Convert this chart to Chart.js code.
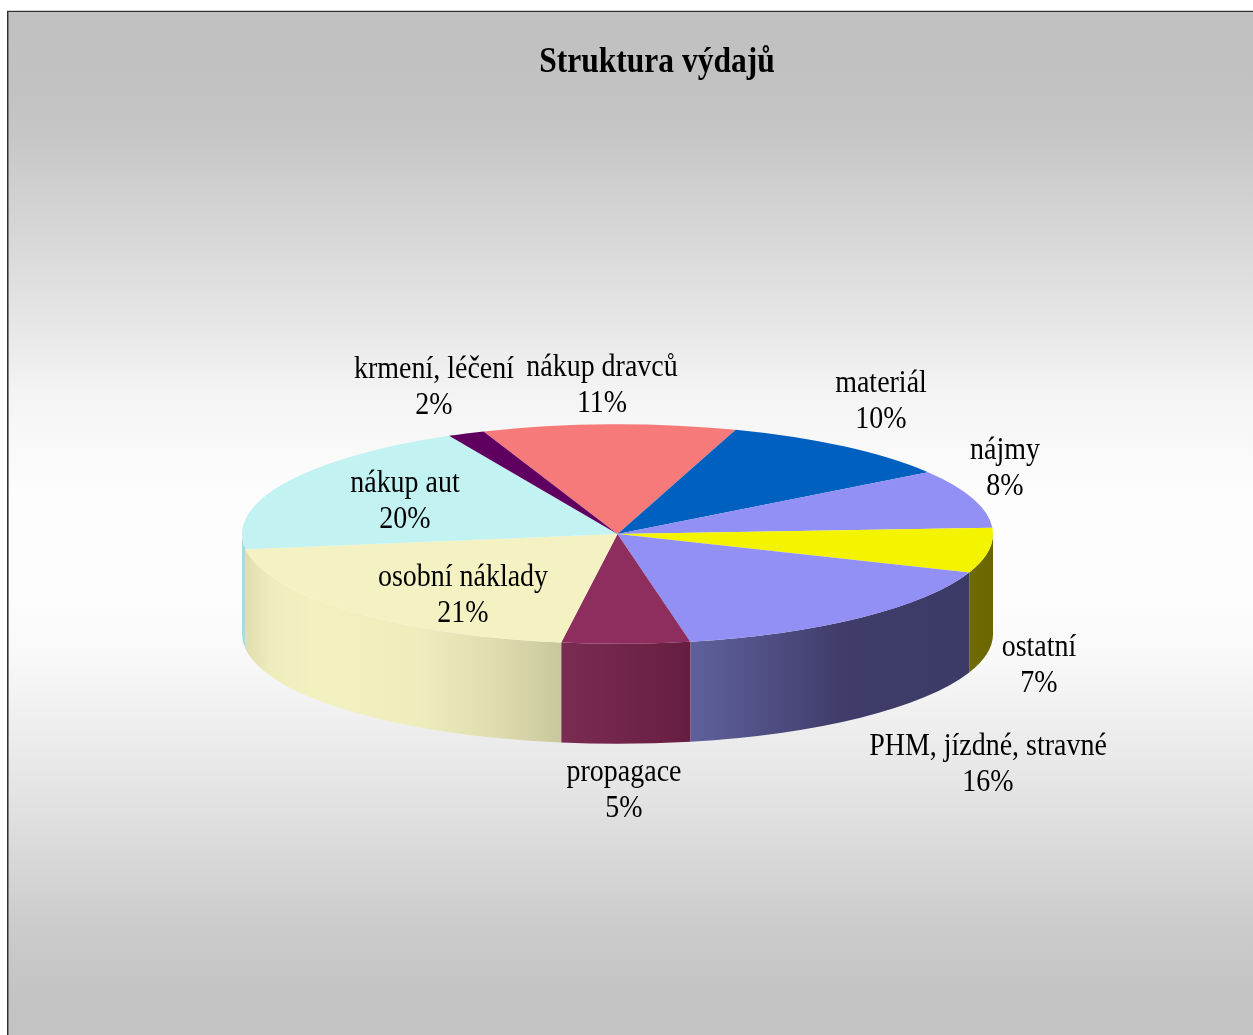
<!DOCTYPE html>
<html>
<head>
<meta charset="utf-8">
<title>Struktura výdajů</title>
<script src="https://cdn.jsdelivr.net/npm/chart.js@4"></script>
<style>
    html, body { margin: 0; padding: 0; background: #fff; overflow: hidden; }
    canvas { display: block; }
</style>
</head>
<body>
<canvas id="vydaje-chart" width="1253" height="1035"></canvas>
<script>
var chart_title = 'Struktura výdajů';
var categories = ['nákup dravců', 'materiál', 'nájmy', 'ostatní', 'PHM, jízdné, stravné', 'propagace', 'osobní náklady', 'nákup aut', 'krmení, léčení'];
var values = [10.9, 10.4, 8.6, 6.6, 16.2, 5.5, 20.4, 19.8, 1.6];
var percent_labels = ['11%', '10%', '8%', '7%', '16%', '5%', '21%', '20%', '2%'];

var top_colors = ['#f67a7a', '#0060c0', '#9290f4', '#f4f400', '#9290f4', '#8e2e5e', '#f4f2c2', '#c2f2f2', '#5f0060'];
// side wall shading, [x position on the wall 0..1, colour]
var wall_shades = [
    [[0, '#c06060'], [1, '#c06060']],
    [[0, '#004c98'], [1, '#004c98']],
    [[0, '#3c3a68'], [1, '#3c3a68']],
    [[0, '#716c00'], [1, '#6a6600']],
    [[0, '#5f5f9c'], [0.15, '#57578f'], [0.55, '#3f3c6a'], [1, '#3c3a66']],
    [[0, '#7a2b52'], [0.6, '#702348'], [1, '#661e40']],
    [[0, '#e0deb0'], [0.08, '#eeecbc'], [0.2, '#f3f1c0'], [0.55, '#efedbc'], [0.8, '#dedcae'], [1, '#c8c69c']],
    [[0, '#a8dcdc'], [1, '#a8dcdc']],
    [[0, '#4c004c'], [1, '#4c004c']]
];

// background bands, [y on the page, grey]
var background_stops = [[11, '#c0c0c0'], [90, '#c2c2c2'], [132, '#c6c6c6'], [264, '#dcdcdc'], [396, '#f4f4f4'], [495, '#fdfdfd'], [594, '#fdfdfd'], [660, '#f8f8f8'], [792, '#e4e4e4'], [924, '#cccccc'], [990, '#c4c4c4'], [1035, '#c3c3c3']];

// centre of each text block on the page
var label_centers = [[602, 386], [881, 402], [1005, 469], [1039, 666], [988, 765], [624, 791], [463, 596], [405, 502], [434, 388]];
var title_center = [657, 63];

var pie_squash = 0.2925;
var pie_depth = 100;
var label_font = '31.5px "Liberation Serif"';
var label_narrow = 0.888;
var title_font = 'bold 36px "Liberation Serif"';
var title_narrow = 0.875;
var label_line = 36;

function DrawNarrowText(ctx, text, x, y, narrow) {
    ctx.save();
    ctx.translate(x, y);
    ctx.scale(narrow, 1);
    ctx.fillText(text, 0, 0);
    ctx.restore();
}

function AddStops(grad, stops) {
    for (var s = 0; s < stops.length; s++) {
        grad.addColorStop(stops[s][0], stops[s][1]);
    }
}

var framePlugin = {
    id: 'frame',
    beforeDraw: function (chart) {
        var ctx = chart.ctx;
        ctx.save();
        ctx.fillStyle = '#ffffff';
        ctx.fillRect(0, 0, chart.width, chart.height);
        var grad = ctx.createLinearGradient(0, 0, 0, chart.height);
        for (var b = 0; b < background_stops.length; b++) {
            grad.addColorStop(background_stops[b][0] / chart.height, background_stops[b][1]);
        }
        ctx.fillStyle = grad;
        ctx.fillRect(8, 11, chart.width - 8, chart.height - 11);
        ctx.fillStyle = '#d0d0d0';
        ctx.fillRect(7, 10, chart.width - 7, 1);
        ctx.fillStyle = '#303030';
        ctx.fillRect(7, 11, chart.width - 7, 1);
        ctx.fillRect(7, 11, 1, chart.height - 11);
        ctx.fillStyle = '#808080';
        ctx.fillRect(8, 12, 1, chart.height - 12);
        ctx.restore();
    }
};

// draws the walls of the slices that face the viewer, then flattens the arcs
var tiltPlugin = {
    id: 'tilt',
    beforeDatasetDraw: function (chart, args) {
        var ctx = chart.ctx;
        var arcs = args.meta.data;
        var cx = arcs[0].x;
        var cy = arcs[0].y;
        var rx = arcs[0].outerRadius;
        var ry = rx * pie_squash;
        var turn = Math.PI * 2;

        ctx.save();
        for (var i = 0; i < arcs.length; i++) {
            var start = arcs[i].startAngle;
            var end = arcs[i].endAngle;
            while (start < 0) {
                start += turn;
                end += turn;
            }
            // keep only the part in the lower half of the ellipse
            var from = Math.max(start, 0);
            var to = Math.min(end, Math.PI);
            if (start > Math.PI && end > turn) {
                from = 0;
                to = end - turn;
            }
            if (to <= from) {
                continue;
            }

            var grad = ctx.createLinearGradient(cx + rx * Math.cos(to), 0, cx + rx * Math.cos(from), 0);
            AddStops(grad, wall_shades[i]);

            ctx.beginPath();
            ctx.ellipse(cx, cy, rx, ry, 0, from, to);
            ctx.ellipse(cx, cy + pie_depth, rx, ry, 0, to, from, true);
            ctx.closePath();
            ctx.fillStyle = grad;
            ctx.fill();
        }
        ctx.restore();

        ctx.save();
        ctx.translate(cx, cy);
        ctx.scale(1, pie_squash);
        ctx.translate(-cx, -cy);
    },
    afterDatasetDraw: function (chart) {
        chart.ctx.restore();
    }
};

var textPlugin = {
    id: 'pieText',
    afterDraw: function (chart) {
        var ctx = chart.ctx;
        ctx.save();
        ctx.fillStyle = '#000000';
        ctx.textAlign = 'center';
        ctx.textBaseline = 'middle';
        ctx.font = title_font;
        DrawNarrowText(ctx, chart_title, title_center[0], title_center[1], title_narrow);
        ctx.font = label_font;
        for (var i = 0; i < categories.length; i++) {
            DrawNarrowText(ctx, categories[i], label_centers[i][0], label_centers[i][1] - label_line / 2, label_narrow);
            DrawNarrowText(ctx, percent_labels[i], label_centers[i][0], label_centers[i][1] + label_line / 2, label_narrow);
        }
        ctx.restore();
    }
};

var VydajeChart = new Chart(document.getElementById('vydaje-chart'), {
    type: 'pie',
    data: {
        labels: categories,
        datasets: [{
            data: values,
            backgroundColor: top_colors,
            borderWidth: 0
        }]
    },
    plugins: [framePlugin, tiltPlugin, textPlugin],
    options: {
        responsive: false,
        animation: false,
        rotation: -20.9,
        events: [],
        layout: {
            padding: { left: 242, right: 260, top: 158.5, bottom: 125.5 }
        },
        plugins: {
            legend: { display: false },
            title: { display: false },
            tooltip: { enabled: false }
        }
    }
});
</script>
</body>
</html>
